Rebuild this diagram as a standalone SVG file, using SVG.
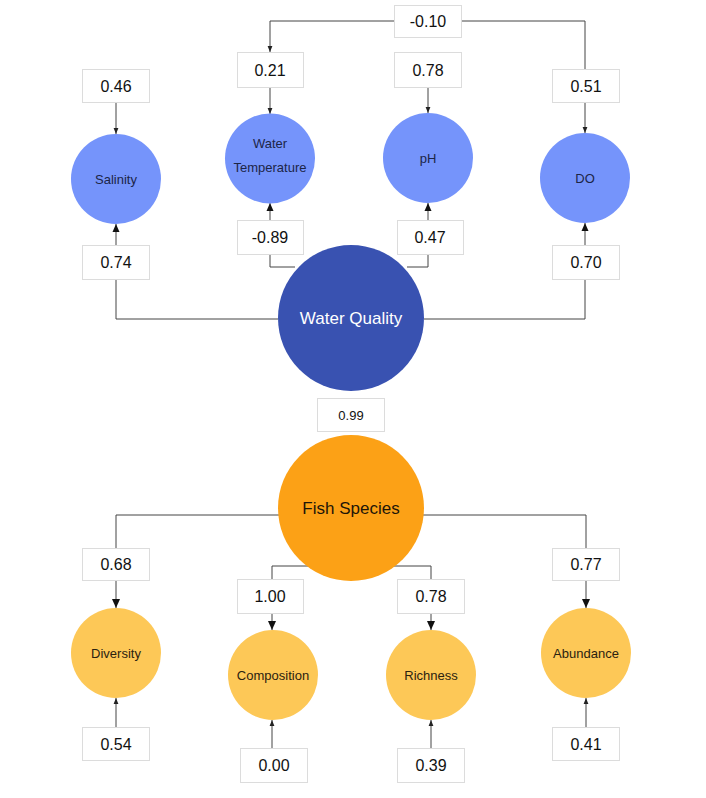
<svg xmlns="http://www.w3.org/2000/svg" width="706" height="798" viewBox="0 0 706 798">
<style>
.bg{fill:#fff}
.box rect{fill:#fff;stroke:#dcdcdc;stroke-width:1}
.box text{font-family:"Liberation Sans",Arial,sans-serif;font-size:16px;fill:#111;text-anchor:middle;dominant-baseline:central}
.lat text,.ind text{font-family:"Liberation Sans",Arial,sans-serif;text-anchor:middle;dominant-baseline:central}
.blue circle{fill:#7594fb}
.blue text{font-size:13px;fill:#1c2547}
.yel circle{fill:#fdc857}
.yel text{font-size:13px;fill:#2b2210}
#connectors path{fill:none;stroke:#444;stroke-width:1}
</style>
<defs>
<marker id="as" viewBox="0 0 6 6" markerWidth="6" markerHeight="6" markerUnits="userSpaceOnUse" refX="6" refY="3" orient="auto"><path d="M0,0.6 L6,3 L0,5.4 Z" fill="#222"/></marker>
<marker id="am" viewBox="0 0 8 8" markerWidth="8" markerHeight="8" markerUnits="userSpaceOnUse" refX="8" refY="4" orient="auto"><path d="M0,0.5 L8,4 L0,7.5 Z" fill="#111"/></marker>
<marker id="al" viewBox="0 0 9 9" markerWidth="9" markerHeight="9" markerUnits="userSpaceOnUse" refX="9" refY="4.5" orient="auto"><path d="M0,0.5 L9,4.5 L0,8.5 Z" fill="#111"/></marker>
</defs>
<rect class="bg" x="0" y="0" width="706" height="798"/>
<g id="connectors">
<path d="M394,21 H270 V52" marker-end="url(#as)"/>
<path d="M461,21 H585 V69"/>
<path d="M116,102 V134" marker-end="url(#as)"/>
<path d="M270,87 V114" marker-end="url(#as)"/>
<path d="M428,87 V113" marker-end="url(#as)"/>
<path d="M585,102 V133" marker-end="url(#as)"/>
<path d="M278,319 H116 V279"/>
<path d="M116,245 V224" marker-end="url(#am)"/>
<path d="M295,267 H270 V254"/>
<path d="M270,220 V203" marker-end="url(#am)"/>
<path d="M407,267 H428 V254"/>
<path d="M428,220 V203" marker-end="url(#am)"/>
<path d="M424,319 H585 V279"/>
<path d="M585,245 V223" marker-end="url(#am)"/>
<path d="M280,515 H116 V548"/>
<path d="M116,580 V608" marker-end="url(#al)"/>
<path d="M314,566 H272 V579"/>
<path d="M272,613 V630" marker-end="url(#al)"/>
<path d="M389,566 H431 V579"/>
<path d="M431,613 V630" marker-end="url(#al)"/>
<path d="M422,515 H586 V548"/>
<path d="M586,580 V608" marker-end="url(#al)"/>
<path d="M116,727 V698" marker-end="url(#as)"/>
<path d="M272,748 V720" marker-end="url(#as)"/>
<path d="M431,748 V720" marker-end="url(#as)"/>
<path d="M586,727 V698" marker-end="url(#as)"/>
</g>
<g id="salinity" class="ind blue"><circle cx="116" cy="179" r="45"/><text x="116" y="179">Salinity</text></g>
<g id="water-temperature" class="ind blue"><circle cx="270" cy="158.5" r="45"/><text x="270" y="143">Water</text><text x="270" y="167">Temperature</text></g>
<g id="ph" class="ind blue"><circle cx="428" cy="158" r="45"/><text x="428" y="158">pH</text></g>
<g id="do" class="ind blue"><circle cx="585" cy="178" r="45"/><text x="585" y="178">DO</text></g>
<g id="water-quality" class="lat"><circle cx="351" cy="318" r="73" fill="#3952b1"/><text x="351" y="318" font-size="17" fill="#fff">Water Quality</text></g>
<g id="fish-species" class="lat"><circle cx="351" cy="508" r="73" fill="#fca116"/><text x="351" y="508" font-size="17" fill="#1e1608">Fish Species</text></g>
<g id="diversity" class="ind yel"><circle cx="116" cy="653" r="45"/><text x="116" y="653">Diversity</text></g>
<g id="composition" class="ind yel"><circle cx="273" cy="675" r="45"/><text x="273" y="675">Composition</text></g>
<g id="richness" class="ind yel"><circle cx="431" cy="675" r="45"/><text x="431" y="675">Richness</text></g>
<g id="abundance" class="ind yel"><circle cx="586" cy="653" r="45"/><text x="586" y="653">Abundance</text></g>
<g id="lbl-cov" class="box"><rect x="394.5" y="5.5" width="67" height="32"/><text x="428" y="21.5">-0.10</text></g>
<g id="lbl-e-sal" class="box"><rect x="82.5" y="69.5" width="67" height="33"/><text x="116" y="86">0.46</text></g>
<g id="lbl-e-wt" class="box"><rect x="237.5" y="52.5" width="66" height="35"/><text x="270" y="70">0.21</text></g>
<g id="lbl-e-ph" class="box"><rect x="394.5" y="52.5" width="67" height="35"/><text x="428" y="70">0.78</text></g>
<g id="lbl-e-do" class="box"><rect x="552.5" y="69.5" width="67" height="33"/><text x="586" y="86">0.51</text></g>
<g id="lbl-sal" class="box"><rect x="82.5" y="245.5" width="67" height="34"/><text x="116" y="262.5">0.74</text></g>
<g id="lbl-wt" class="box"><rect x="237.5" y="220.5" width="66" height="34"/><text x="270" y="237.5">-0.89</text></g>
<g id="lbl-ph" class="box"><rect x="397.5" y="220.5" width="66" height="34"/><text x="430" y="237.5">0.47</text></g>
<g id="lbl-do" class="box"><rect x="552.5" y="245.5" width="67" height="34"/><text x="586" y="262.5">0.70</text></g>
<g id="lbl-path" class="box"><rect x="317.5" y="398.5" width="67" height="33"/><text x="351" y="415" style="font-size:13px">0.99</text></g>
<g id="lbl-div" class="box"><rect x="82.5" y="548.5" width="67" height="32"/><text x="116" y="564.5">0.68</text></g>
<g id="lbl-comp" class="box"><rect x="237.5" y="579.5" width="66" height="34"/><text x="270" y="596.5">1.00</text></g>
<g id="lbl-rich" class="box"><rect x="397.5" y="579.5" width="67" height="34"/><text x="431" y="596.5">0.78</text></g>
<g id="lbl-abun" class="box"><rect x="552.5" y="548.5" width="67" height="32"/><text x="586" y="564.5">0.77</text></g>
<g id="lbl-e-div" class="box"><rect x="82.5" y="727.5" width="67" height="33"/><text x="116" y="744">0.54</text></g>
<g id="lbl-e-comp" class="box"><rect x="240.5" y="748.5" width="67" height="34"/><text x="274" y="765.5">0.00</text></g>
<g id="lbl-e-rich" class="box"><rect x="397.5" y="748.5" width="67" height="34"/><text x="431" y="765.5">0.39</text></g>
<g id="lbl-e-abun" class="box"><rect x="552.5" y="727.5" width="67" height="33"/><text x="586" y="744">0.41</text></g>
</svg>
